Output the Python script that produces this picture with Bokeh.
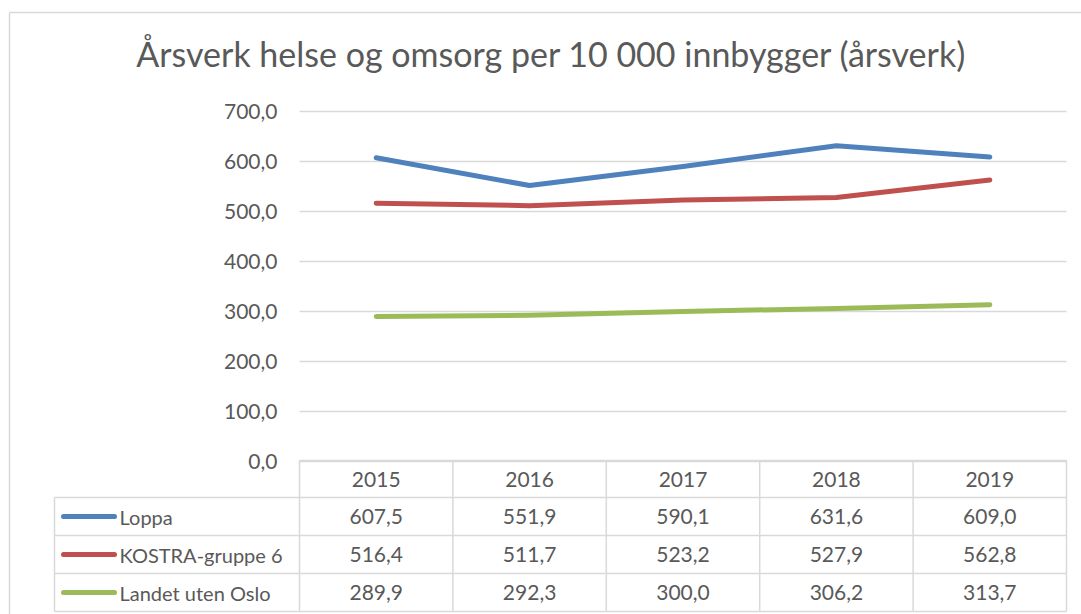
from bokeh.plotting import figure
from bokeh.models import Range1d
from bokeh.core.properties import value
from bokeh.embed import file_html
from bokeh.resources import INLINE

# ---------------- data ----------------
years = ["2015", "2016", "2017", "2018", "2019"]
series_names = ["Loppa", "KOSTRA-gruppe 6", "Landet uten Oslo"]
loppa = [607.5, 551.9, 590.1, 631.6, 609.0]
kostra = [516.4, 511.7, 523.2, 527.9, 562.8]
landet = [289.9, 292.3, 300.0, 306.2, 313.7]
y_ticks = [0, 100, 200, 300, 400, 500, 600, 700]
y_tick_labels = ["0,0", "100,0", "200,0", "300,0", "400,0", "500,0", "600,0", "700,0"]
title_text = "Årsverk helse og omsorg per 10 000 innbygger (årsverk)"

series_values = [loppa, kostra, landet]
colors = ["#4f81bd", "#c0504d", "#9bbb59"]
TEXT = "#595959"
GRID = "#d9d9d9"
FONT = value("Lato")

W, H = 1081, 614
PLOT_L, PLOT_R = 299, 1066      # pixel layout of the plot area
PLOT_T, PLOT_B = 111, 461       # pixel rows of 700 and 0
COLW = (PLOT_R - PLOT_L) / len(years)
PX_PER_UNIT = (PLOT_B - PLOT_T) / 700.0


def xd(px):
    return -0.5 + (px - PLOT_L) / COLW


def yd(py):
    return (PLOT_B - py) / PX_PER_UNIT


p = figure(width=W, height=H, output_backend="svg", toolbar_location=None,
           x_range=Range1d(xd(0), xd(W)), y_range=Range1d(yd(H), yd(0)),
           x_axis_location=None, y_axis_location=None,
           min_border=0, min_border_left=0, min_border_right=0,
           min_border_top=0, min_border_bottom=0)
p.outline_line_color = None
p.background_fill_color = "white"
p.border_fill_color = "white"
p.grid.visible = False

# grid lines (horizontal, across the plot area)
p.segment(x0=[xd(PLOT_L)] * len(y_ticks), x1=[xd(PLOT_R)] * len(y_ticks),
          y0=y_ticks, y1=y_ticks, line_color=GRID, line_width=1.5)

# y tick labels
p.text(x=[xd(277)] * len(y_ticks), y=y_ticks, text=y_tick_labels, text_font=FONT,
       text_font_size="21px", text_color=TEXT, text_align="right", text_baseline="middle")

# series lines
xs = list(range(len(years)))
for vals, col in zip(series_values, colors):
    p.line(xs, vals, line_width=5, color=col, line_cap="round", line_join="round")

# title
p.text(x=[xd(551)], y=[yd(53)], text=[title_text], text_font=FONT,
       text_font_size="34px", text_color=TEXT, text_align="center",
       text_baseline="middle")

# outer chart border
p.segment(x0=[xd(9), xd(9)], x1=[xd(W + 5), xd(9)], y0=[yd(12), yd(12)],
          y1=[yd(12), yd(H + 5)], line_color=GRID, line_width=1.5)

# data table grid
rows = [460, 497, 535, 573, 611]
TL = 54
hx0 = [xd(PLOT_L)] + [xd(TL)] * (len(rows) - 1)
hx1 = [xd(PLOT_R)] * len(rows)
hy = [yd(r) for r in rows]
p.segment(x0=hx0, x1=hx1, y0=hy, y1=hy, line_color=GRID, line_width=1.5)
vx = [xd(TL)] + [xd(PLOT_L + k * COLW) for k in range(len(years) + 1)]
vy0 = [yd(rows[1])] + [yd(rows[0])] * (len(years) + 1)
vy1 = [yd(rows[-1])] * (len(years) + 2)
p.segment(x0=vx, x1=vx, y0=vy0, y1=vy1, line_color=GRID, line_width=1.5)

# header
p.text(x=xs, y=[yd((rows[0] + rows[1]) / 2)] * len(years), text=years, text_font=FONT,
       text_font_size="21px", text_color=TEXT, text_align="center", text_baseline="middle")

for r, (name, vals, col) in enumerate(zip(series_names, series_values, colors)):
    cy = yd((rows[r + 1] + rows[r + 2]) / 2)
    p.segment(x0=[xd(63)], x1=[xd(114)], y0=[cy], y1=[cy], line_color=col,
              line_width=5, line_cap="round")
    p.text(x=[xd(119)], y=[cy], text=[name], text_font=FONT, text_font_size="20px",
           text_color=TEXT, text_align="left", text_baseline="middle")
    p.text(x=xs, y=[cy] * len(vals), text=[f"{v:.1f}".replace(".", ",") for v in vals],
           text_font=FONT, text_font_size="21px", text_color=TEXT, text_align="center",
           text_baseline="middle")

open("out.html", "w").write(file_html(p, INLINE))
